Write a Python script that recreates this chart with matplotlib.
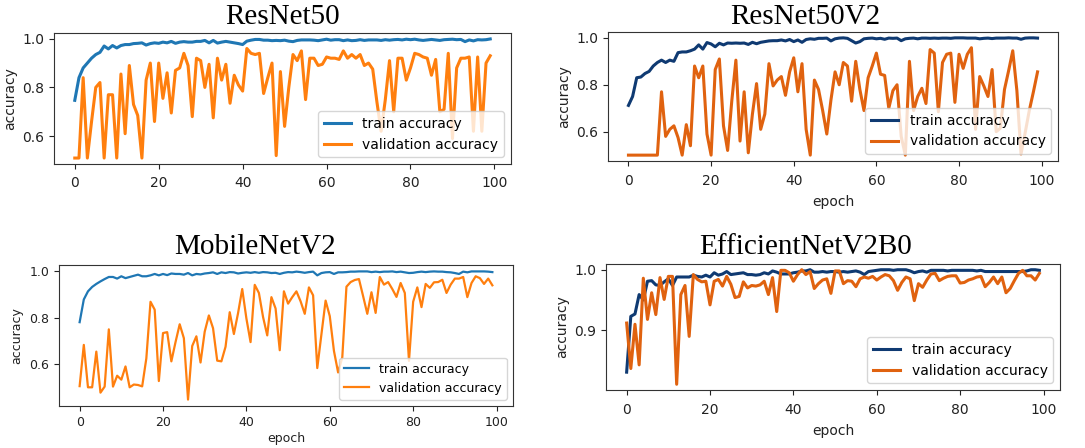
import numpy as np
import matplotlib
matplotlib.use("Agg")
import matplotlib.pyplot as plt

epochs = np.arange(100)

# ResNet50
r50_train = [0.747, 0.84, 0.88, 0.90, 0.92, 0.935, 0.944, 0.97, 0.958, 0.972,
             0.962, 0.972, 0.976, 0.976, 0.98, 0.981, 0.983, 0.974, 0.98, 0.983,
             0.981, 0.986, 0.983, 0.989, 0.981, 0.986, 0.988, 0.986, 0.986, 0.989,
             0.989, 0.993, 0.983, 0.993, 0.982, 0.986, 0.989, 0.986, 0.983, 0.98,
             0.976, 0.99, 0.994, 0.997, 0.997, 0.994, 0.994, 0.992, 0.993, 0.992,
             0.994, 0.99, 0.988, 0.993, 0.995, 0.995, 0.995, 0.994, 0.992, 0.995,
             0.998, 0.994, 0.996, 0.996, 0.992, 0.995, 0.992, 0.993, 0.996, 0.993,
             0.995, 0.995, 0.995, 0.993, 0.996, 0.994, 0.996, 0.997, 0.995, 0.998,
             0.996, 0.998, 0.995, 0.993, 0.995, 0.997, 0.995, 0.993, 0.996, 0.997,
             0.998, 0.996, 0.997, 0.988, 0.995, 0.991, 0.996, 0.995, 0.996, 0.999]
r50_val = [0.51, 0.51, 0.84, 0.51, 0.66, 0.80, 0.82, 0.51, 0.77, 0.77,
           0.51, 0.855, 0.61, 0.89, 0.73, 0.685, 0.51, 0.83, 0.90, 0.66,
           0.90, 0.755, 0.86, 0.695, 0.87, 0.88, 0.94, 0.89, 0.68, 0.92,
           0.91, 0.80, 0.895, 0.675, 0.92, 0.83, 0.895, 0.735, 0.85, 0.81,
           0.785, 0.96, 0.94, 0.935, 0.94, 0.775, 0.84, 0.90, 0.52, 0.865,
           0.64, 0.80, 0.935, 0.91, 0.95, 0.75, 0.92, 0.92, 0.89, 0.895,
           0.925, 0.92, 0.92, 0.915, 0.95, 0.92, 0.935, 0.92, 0.935, 0.89,
           0.90, 0.875, 0.74, 0.62, 0.75, 0.91, 0.70, 0.92, 0.92, 0.83,
           0.88, 0.94, 0.935, 0.925, 0.92, 0.85, 0.915, 0.70, 0.71, 0.94,
           0.59, 0.88, 0.92, 0.92, 0.925, 0.62, 0.925, 0.62, 0.90, 0.93]

# ResNet50V2
r50v2_train = [0.712, 0.75, 0.83, 0.833, 0.848, 0.857, 0.88, 0.895, 0.905, 0.895,
               0.905, 0.90, 0.937, 0.94, 0.94, 0.945, 0.952, 0.97, 0.952, 0.98,
               0.974, 0.962, 0.977, 0.97, 0.978, 0.977, 0.978, 0.977, 0.978, 0.972,
               0.981, 0.975, 0.981, 0.984, 0.987, 0.988, 0.988, 0.991, 0.987, 0.993,
               0.984, 0.991, 0.981, 0.993, 0.996, 0.994, 0.998, 0.998, 0.999, 0.987,
               0.996, 0.999, 1.0, 0.998, 0.988, 0.978, 0.984, 0.996, 0.998, 0.999,
               0.996, 0.998, 0.994, 0.999, 0.998, 0.999, 0.988, 0.996, 0.998, 0.999,
               0.996, 0.999, 0.999, 0.998, 0.999, 0.998, 0.999, 0.999, 0.998, 1.0,
               1.0, 1.0, 0.999, 0.999, 0.999, 0.996, 0.998, 0.999, 0.997, 0.999,
               0.999, 0.999, 1.0, 0.999, 0.999, 0.994, 0.999, 1.0, 1.0, 0.999]
r50v2_val = [0.50, 0.50, 0.50, 0.50, 0.50, 0.50, 0.50, 0.50, 0.77, 0.58,
             0.61, 0.625, 0.575, 0.50, 0.63, 0.54, 0.88, 0.83, 0.88, 0.59,
             0.50, 0.865, 0.91, 0.625, 0.52, 0.73, 0.905, 0.56, 0.77, 0.51,
             0.675, 0.805, 0.61, 0.675, 0.89, 0.795, 0.82, 0.835, 0.755, 0.855,
             0.915, 0.77, 0.89, 0.61, 0.50, 0.82, 0.78, 0.69, 0.59, 0.735,
             0.855, 0.80, 0.895, 0.88, 0.73, 0.90, 0.78, 0.69, 0.83, 0.88,
             0.935, 0.845, 0.84, 0.70, 0.775, 0.80, 0.58, 0.50, 0.90, 0.69,
             0.75, 0.785, 0.72, 0.95, 0.935, 0.685, 0.895, 0.93, 0.935, 0.725,
             0.93, 0.87, 0.93, 0.958, 0.61, 0.835, 0.795, 0.75, 0.865, 0.60,
             0.615, 0.78, 0.86, 0.945, 0.775, 0.505, 0.595, 0.69, 0.77, 0.855]

# MobileNetV2
mnv2_train = [0.781, 0.879, 0.914, 0.933, 0.946, 0.957, 0.967, 0.976, 0.976, 0.969,
              0.979, 0.971, 0.976, 0.981, 0.986, 0.979, 0.979, 0.983, 0.989, 0.983,
              0.989, 0.984, 0.991, 0.989, 0.989, 0.986, 0.993, 0.983, 0.989, 0.987,
              0.991, 0.993, 0.996, 0.989, 0.996, 0.993, 0.997, 0.996, 0.991, 0.994,
              0.996, 0.994, 0.997, 0.994, 0.997, 0.996, 0.993, 0.994, 0.989, 0.994,
              0.997, 0.996, 0.999, 0.997, 0.994, 0.997, 0.999, 0.983, 0.993, 0.996,
              0.997, 0.989, 0.996, 0.996, 0.997, 0.999, 0.999, 1.0, 1.0, 1.0,
              0.997, 0.999, 0.997, 0.999, 0.999, 1.0, 0.997, 0.999, 0.996, 0.993,
              0.994, 0.997, 0.999, 0.997, 0.999, 1.0, 0.999, 0.999, 0.997, 0.996,
              0.993, 0.989, 0.999, 0.996, 1.0, 1.0, 1.0, 1.0, 0.999, 0.997]
mnv2_val = [0.505, 0.683, 0.50, 0.50, 0.654, 0.477, 0.503, 0.75, 0.503, 0.55,
            0.533, 0.59, 0.50, 0.512, 0.51, 0.504, 0.625, 0.869, 0.835, 0.527,
            0.734, 0.738, 0.612, 0.695, 0.772, 0.712, 0.447, 0.678, 0.72, 0.607,
            0.74, 0.81, 0.755, 0.615, 0.612, 0.675, 0.824, 0.73, 0.82, 0.924,
            0.797, 0.695, 0.942, 0.907, 0.803, 0.724, 0.889, 0.84, 0.66, 0.914,
            0.861, 0.889, 0.914, 0.871, 0.817, 0.931, 0.897, 0.583, 0.729, 0.874,
            0.807, 0.657, 0.564, 0.629, 0.934, 0.954, 0.963, 0.967, 0.893, 0.817,
            0.91, 0.821, 0.976, 0.943, 0.954, 0.924, 0.89, 0.95, 0.907, 0.614,
            0.869, 0.931, 0.846, 0.946, 0.929, 0.953, 0.954, 0.964, 0.907, 0.943,
            0.969, 0.969, 0.976, 0.889, 0.95, 0.979, 0.971, 0.946, 0.969, 0.94]

# EfficientNetV2B0
env2_train = [0.831, 0.923, 0.927, 0.959, 0.95, 0.981, 0.982, 0.975, 0.974, 0.98,
              0.985, 0.974, 0.988, 0.988, 0.988, 0.988, 0.991, 0.989, 0.988, 0.991,
              0.988, 0.995, 0.991, 0.993, 0.997, 0.992, 0.993, 0.994, 0.995, 0.992,
              0.992, 0.991, 0.992, 0.995, 0.993, 0.998, 0.996, 0.993, 0.993, 0.993,
              0.995, 0.996, 0.998, 0.998, 1.0, 0.996, 0.996, 0.997, 0.996, 0.997,
              0.997, 0.996, 0.997, 0.996, 0.997, 0.998, 0.996, 0.992, 0.997, 0.998,
              0.999, 1.0, 1.0, 1.0, 0.999, 1.0, 1.0, 1.0, 0.998, 0.995,
              0.997, 0.998, 0.996, 0.999, 0.999, 0.999, 0.999, 0.998, 0.999, 0.999,
              0.999, 0.999, 0.999, 0.999, 0.998, 0.999, 0.997, 0.997, 0.997, 0.997,
              0.997, 0.997, 0.997, 0.997, 0.997, 0.997, 0.998, 1.0, 1.0, 0.999]
env2_val = [0.912, 0.837, 0.91, 0.843, 0.986, 0.918, 0.962, 0.926, 0.987, 0.951,
            0.989, 0.989, 0.811, 0.959, 0.974, 0.89, 0.992, 0.984, 0.98, 0.981,
            0.942, 0.981, 0.984, 0.973, 0.989, 0.976, 0.954, 0.956, 0.98, 0.97,
            0.974, 0.973, 0.975, 0.981, 0.959, 0.987, 0.931, 0.999, 0.999, 0.995,
            0.981, 0.992, 1.0, 0.992, 0.997, 0.969, 0.977, 0.983, 0.985, 0.961,
            0.998, 0.998, 0.977, 0.982, 0.981, 0.972, 0.985, 0.988, 0.986, 0.989,
            0.983, 0.988, 0.992, 0.99, 0.982, 0.966, 0.979, 0.988, 0.985, 0.949,
            0.977, 0.971, 0.983, 0.993, 0.994, 0.982, 0.986, 0.989, 0.99, 0.99,
            0.978, 0.979, 0.983, 0.985, 0.988, 0.989, 0.972, 0.979, 0.988, 0.977,
            0.988, 0.962, 0.969, 0.982, 0.994, 0.999, 0.99, 0.99, 0.983, 0.994]

W, H = 1085, 448
fig = plt.figure(figsize=(W / 100, H / 100), dpi=100)


def px_rect(l, r, t, b):
    return [l / W, 1 - b / H, (r - l) / W, (b - t) / H]


panels = [
    dict(title="ResNet50", rect=(54, 511, 33, 164), train=r50_train, val=r50_val,
         colors=("#1f77b4", "#ff7f0e"), lw=2.2, fs=10, yticks=[0.6, 0.8, 1.0],
         xlabel=False, tpos=(283, 17), pad=5, lpad=4),
    dict(title="ResNet50V2", rect=(608, 1058, 32, 161), train=r50v2_train, val=r50v2_val,
         colors=("#0f3a72", "#e0620f"), lw=2.2, fs=10, yticks=[0.6, 0.8, 1.0],
         xlabel=True, tpos=(805, 17), pad=6, lpad=5),
    dict(title="MobileNetV2", rect=(59, 513, 265, 406), train=mnv2_train, val=mnv2_val,
         colors=("#1f77b4", "#ff7f0e"), lw=1.6, fs=9, yticks=[0.6, 0.8, 1.0],
         xlabel=True, tpos=(255, 247), pad=3.5, lpad=2),
    dict(title="EfficientNetV2B0", rect=(606, 1060, 264, 390), train=env2_train, val=env2_val,
         colors=("#0f3a72", "#e0620f"), lw=2.2, fs=10, yticks=[0.9, 1.0],
         xlabel=True, tpos=(806, 247), pad=6, lpad=5),
]

for p in panels:
    ax = fig.add_axes(px_rect(*p["rect"]))
    ax.plot(epochs, p["train"], color=p["colors"][0], lw=p["lw"], label="train accuracy")
    ax.plot(epochs, p["val"], color=p["colors"][1], lw=p["lw"], label="validation accuracy")
    ax.set_xticks([0, 20, 40, 60, 80, 100])
    ax.set_yticks(p["yticks"])
    ax.tick_params(labelsize=p["fs"], colors="#222222")
    ax.tick_params(axis="x", pad=p["pad"])
    ax.set_ylabel("accuracy", fontsize=p["fs"], color="#222222")
    if p["xlabel"]:
        ax.set_xlabel("epoch", fontsize=p["fs"], color="#222222", labelpad=p["lpad"])
    for s in ax.spines.values():
        s.set_color("#333333")
    ax.legend(loc="lower right", fontsize=p["fs"])
    fig.text(p["tpos"][0] / W, 1 - p["tpos"][1] / H, p["title"], ha="center", va="center",
             fontsize=21, family="Liberation Serif")

fig.savefig("out.png", dpi=100)
